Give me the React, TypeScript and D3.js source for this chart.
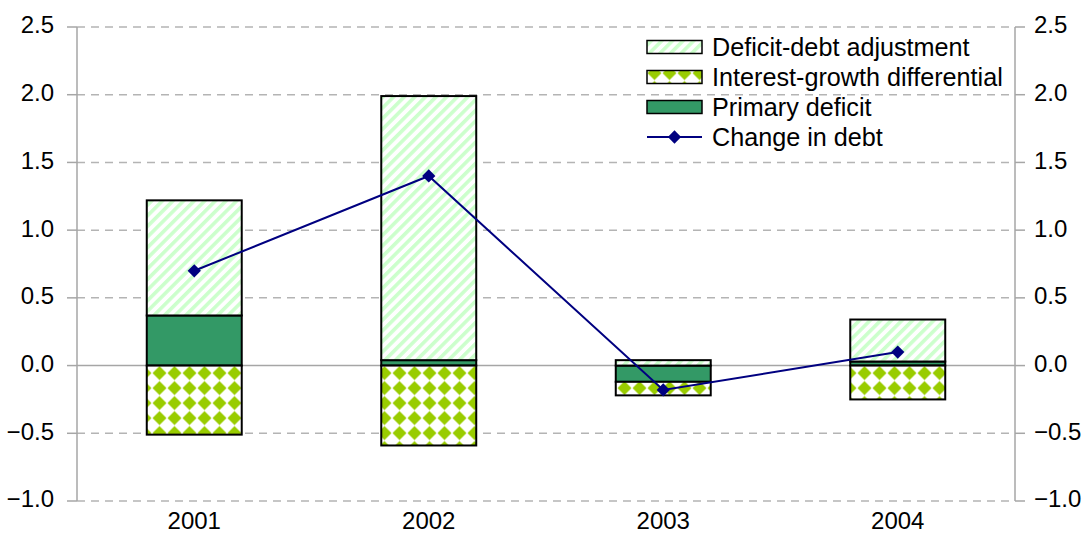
import React from "react";
import * as d3 from "d3";

// Contributions to the change in the debt ratio (percentage points)
const years = ["2001", "2002", "2003", "2004"];
const primaryDeficit = [0.37, 0.04, -0.12, 0.03];
const interestGrowth = [-0.51, -0.59, -0.1, -0.25];
const deficitDebtAdj = [0.85, 1.95, 0.04, 0.31];
const changeInDebt = [0.7, 1.4, -0.18, 0.1];
const yTicks = [-1.0, -0.5, 0, 0.5, 1.0, 1.5, 2.0, 2.5];

const legendItems = [
  { label: "Deficit-debt adjustment", kind: "dda" },
  { label: "Interest-growth differential", kind: "ig" },
  { label: "Primary deficit", kind: "pd" },
  { label: "Change in debt", kind: "line" },
];

const W = 1088;
const H = 548;
const left = 77;
const right = 1015;
const top = 27;
const bottom = 501;
const FONT = "Arial, 'Liberation Sans', sans-serif";

const PD_COLOR = "#339966";
const IG_COLOR = "#99cc00";
const DDA_COLOR = "#ccffcc";
const LINE_COLOR = "#000080";

export default function App() {
  const x = d3
    .scaleBand<string>()
    .domain(years)
    .range([left, right])
    .paddingInner(0.595)
    .paddingOuter(0.2975);
  const y = d3.scaleLinear().domain([-1, 2.5]).range([bottom, top]);

  // stack order from the zero line outward: primary deficit, interest-growth, deficit-debt adjustment
  const series = [
    { key: "pd", values: primaryDeficit, fill: PD_COLOR },
    { key: "ig", values: interestGrowth, fill: "url(#diamonds)" },
    { key: "dda", values: deficitDebtAdj, fill: "url(#stripes)" },
  ];

  const segments: { key: string; x: number; y0: number; y1: number; fill: string }[] = [];
  years.forEach((yr, i) => {
    let pos = 0;
    let neg = 0;
    series.forEach((s) => {
      const v = s.values[i];
      let a: number, b: number;
      if (v >= 0) {
        a = pos;
        b = pos + v;
        pos = b;
      } else {
        a = neg;
        b = neg + v;
        neg = b;
      }
      segments.push({ key: s.key + yr, x: x(yr)!, y0: y(Math.max(a, b)), y1: y(Math.min(a, b)), fill: s.fill });
    });
  });

  const line = d3
    .line<number>()
    .x((_, i) => x(years[i])! + x.bandwidth() / 2)
    .y((d) => y(d));

  const diamond = d3.symbol().type(d3.symbolSquare).size(88)();

  const legendX = 647;
  const legendRowY = (i: number) => 47 + i * 30;

  return (
    <svg
      width={W}
      height={H}
      style={{ position: "absolute", left: 0, top: 0, background: "#fff" }}
      fontFamily={FONT}
    >
      <defs>
        <pattern id="stripes" patternUnits="userSpaceOnUse" width={7.5} height={7.5} patternTransform="rotate(45)">
          <rect width={7.5} height={7.5} fill="#fff" />
          <rect width={3.6} height={7.5} fill={DDA_COLOR} />
        </pattern>
        <pattern id="diamonds" patternUnits="userSpaceOnUse" width={15} height={15} x={left} y={y(0)}>
          <rect width={15} height={15} fill="#fff" />
          <polygon points="7.5,0.5 14.5,7.5 7.5,14.5 0.5,7.5" fill={IG_COLOR} />
        </pattern>
      </defs>

      {/* gridlines */}
      {yTicks.map((t) => (
        <line
          key={"g" + t}
          x1={left}
          x2={right}
          y1={y(t)}
          y2={y(t)}
          stroke={t === 0 ? "#a6a6a6" : "#b4b4b4"}
          strokeWidth={1.5}
          strokeDasharray={t === 0 ? undefined : "8,6"}
        />
      ))}

      {/* axes */}
      <line x1={left} x2={left} y1={top} y2={bottom} stroke="#a6a6a6" strokeWidth={1.5} />
      <line x1={right} x2={right} y1={top} y2={bottom} stroke="#a6a6a6" strokeWidth={1.5} />
      {yTicks.map((t) => (
        <g key={"t" + t}>
          <line x1={left - 10} x2={left} y1={y(t)} y2={y(t)} stroke="#a6a6a6" strokeWidth={1.5} />
          <line x1={right} x2={right + 10} y1={y(t)} y2={y(t)} stroke="#a6a6a6" strokeWidth={1.5} />
          <text x={54} y={y(t) - 2} dy="0.35em" textAnchor="end" fontSize={24} fill="#000">
            {d3.format(".1f")(t)}
          </text>
          <text x={1034} y={y(t) - 2} dy="0.35em" textAnchor="start" fontSize={24} fill="#000">
            {d3.format(".1f")(t)}
          </text>
        </g>
      ))}
      {years.map((yr) => (
        <text key={yr} x={x(yr)! + x.bandwidth() / 2} y={521} dy="0.35em" textAnchor="middle" fontSize={24} fill="#000">
          {yr}
        </text>
      ))}

      {/* stacked bars */}
      {segments.map((s) => (
        <rect
          key={s.key}
          x={s.x}
          y={s.y0}
          width={x.bandwidth()}
          height={Math.max(0, s.y1 - s.y0)}
          fill={s.fill}
          stroke="#000"
          strokeWidth={2}
        />
      ))}

      {/* change in debt */}
      <path d={line(changeInDebt) ?? ""} fill="none" stroke={LINE_COLOR} strokeWidth={2} />
      {changeInDebt.map((v, i) => (
        <path
          key={"m" + i}
          d={diamond ?? ""}
          transform={`translate(${x(years[i])! + x.bandwidth() / 2},${y(v)}) rotate(45)`}
          fill={LINE_COLOR}
        />
      ))}

      {/* legend */}
      {legendItems.map((item, i) => {
        const cy = legendRowY(i);
        let swatch;
        if (item.kind === "line") {
          swatch = (
            <g>
              <line x1={legendX} x2={legendX + 55} y1={cy} y2={cy} stroke={LINE_COLOR} strokeWidth={2} />
              <path d={diamond ?? ""} transform={`translate(${legendX + 27.5},${cy}) rotate(45)`} fill={LINE_COLOR} />
            </g>
          );
        } else {
          const fill = item.kind === "pd" ? PD_COLOR : item.kind === "ig" ? "url(#diamonds)" : "url(#stripes)";
          swatch = (
            <rect x={legendX} y={cy - 6.5} width={55} height={13} fill={fill} stroke="#000" strokeWidth={1.5} />
          );
        }
        return (
          <g key={item.label}>
            {swatch}
            <text x={712} y={cy} dy="0.35em" fontSize={25.2} fill="#000">
              {item.label}
            </text>
          </g>
        );
      })}
    </svg>
  );
}
